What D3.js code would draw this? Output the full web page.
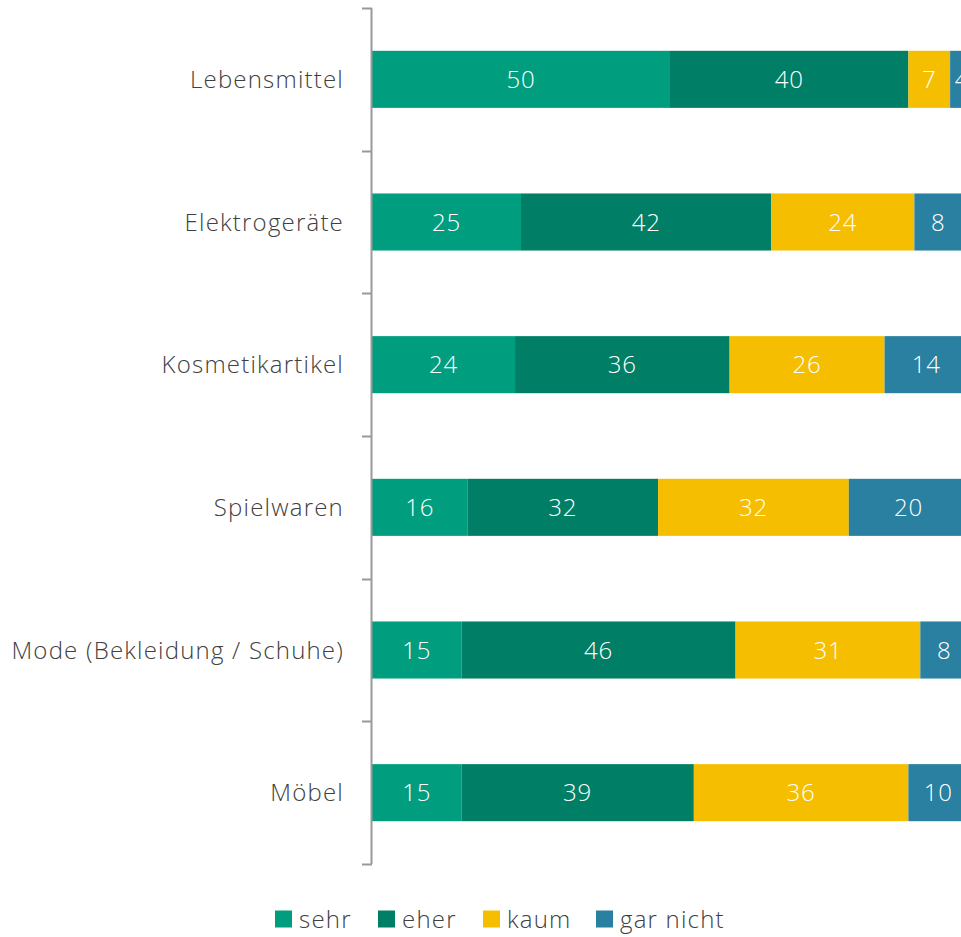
<!DOCTYPE html>
<html lang="de">
<head>
<meta charset="UTF-8">
<title>Stacked bars</title>
<style>
  body { margin: 0; padding: 0; overflow: hidden; background: #fff; }
  svg { display: block; font-family: "Open Sans", sans-serif; }
</style>
</head>
<body>
<script src="https://d3js.org/d3.v7.min.js"></script>
<script>
  // data
  const categories = ["Lebensmittel", "Elektrogeräte", "Kosmetikartikel", "Spielwaren", "Mode (Bekleidung / Schuhe)", "Möbel"];
  const seriesNames = ["sehr", "eher", "kaum", "gar nicht"];
  const sehr = [50, 25, 24, 16, 15, 15];
  const eher = [40, 42, 36, 32, 46, 39];
  const kaum = [7, 24, 26, 32, 31, 36];
  const garNicht = [4, 8, 14, 20, 8, 10];
  const colors = ["#009e7e", "#007f66", "#f5be00", "#2980a0"];

  const width = 961, height = 937;
  const svg = d3.select("body").append("svg")
    .attr("width", width)
    .attr("height", height);

  const rows = categories.map((c, i) => ({
    cat: c, sehr: sehr[i], eher: eher[i], kaum: kaum[i], "gar nicht": garNicht[i]
  }));
  const stack = d3.stack().keys(seriesNames)(rows);

  const x = d3.scaleLinear().domain([0, 100]).range([372, 968]);
  const y = d3.scaleBand().domain(categories).range([8, 864])
    .paddingInner(0.6).paddingOuter(0.3);

  // bars
  const layers = svg.selectAll("g.layer")
    .data(stack)
    .enter().append("g")
    .attr("class", "layer")
    .attr("fill", (d, i) => colors[i]);

  layers.selectAll("rect")
    .data(d => d)
    .enter().append("rect")
    .attr("x", d => x(d[0]))
    .attr("y", d => y(d.data.cat))
    .attr("width", d => x(d[1]) - x(d[0]))
    .attr("height", y.bandwidth());

  // value labels
  layers.selectAll("text")
    .data(d => d.map(v => ({ v, val: v[1] - v[0] })))
    .enter().append("text")
    .attr("x", d => (x(d.v[0]) + x(d.v[1])) / 2)
    .attr("y", d => y(d.v.data.cat) + y.bandwidth() / 2)
    .attr("dy", "0.36em")
    .attr("text-anchor", "middle")
    .attr("fill", "#fff")
    .attr("font-size", 24)
    .attr("font-weight", 300)
    .attr("letter-spacing", 0.8)
    .text(d => d.val);

  // left axis, ticks at band boundaries
  const axisG = svg.append("g");
  axisG.append("line")
    .attr("x1", 371.5).attr("x2", 371.5)
    .attr("y1", 8).attr("y2", 864)
    .attr("stroke", "#999").attr("stroke-width", 2);
  const step = (864 - 8) / categories.length;
  const bounds = d3.range(categories.length + 1).map(i => 8 + i * step);
  axisG.selectAll("line.tick")
    .data(bounds)
    .enter().append("line")
    .attr("class", "tick")
    .attr("x1", 362).attr("x2", 372)
    .attr("y1", d => Math.round(d) + 0.5).attr("y2", d => Math.round(d) + 0.5)
    .attr("stroke", "#999").attr("stroke-width", 2);

  axisG.selectAll("text")
    .data(categories)
    .enter().append("text")
    .attr("x", 344)
    .attr("y", d => y(d) + y.bandwidth() / 2)
    .attr("dy", "0.36em")
    .attr("text-anchor", "end")
    .attr("fill", "#404040")
    .attr("font-size", 24)
    .attr("font-weight", 300)
    .attr("letter-spacing", 1.2)
    .text(d => d);

  // legend
  const legendX = [275, 378, 483, 596];
  const legend = svg.append("g");
  const items = legend.selectAll("g")
    .data(seriesNames)
    .enter().append("g")
    .attr("transform", (d, i) => `translate(${legendX[i]},919)`);
  items.append("rect")
    .attr("x", 0).attr("y", -8.5)
    .attr("width", 17).attr("height", 17)
    .attr("fill", (d, i) => colors[i]);
  items.append("text")
    .attr("x", 24)
    .attr("dy", "0.36em")
    .attr("fill", "#404040")
    .attr("font-size", 24)
    .attr("font-weight", 300)
    .attr("letter-spacing", 1.2)
    .text(d => d);
</script>
</body>
</html>
